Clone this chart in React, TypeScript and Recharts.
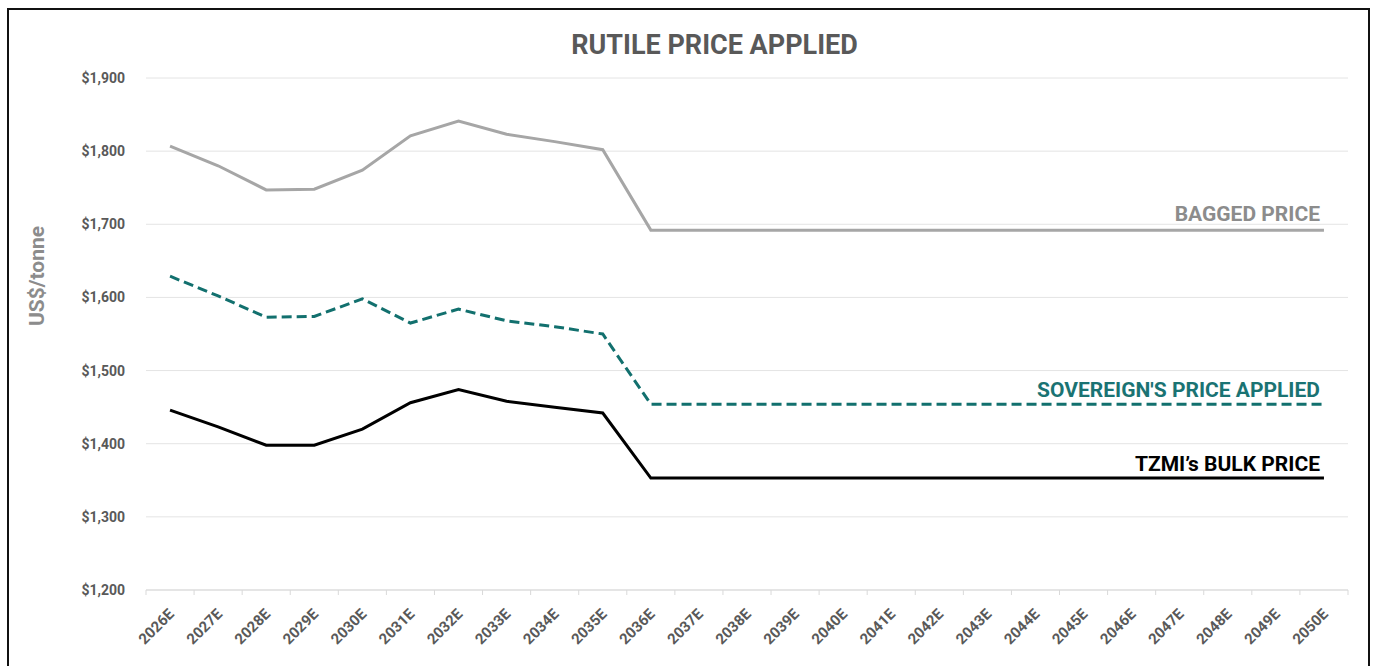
import { LineChart, Line, XAxis, YAxis, CartesianGrid, LabelList } from 'recharts';

const years = [
  '2026E', '2027E', '2028E', '2029E', '2030E', '2031E', '2032E', '2033E', '2034E',
  '2035E', '2036E', '2037E', '2038E', '2039E', '2040E', '2041E', '2042E', '2043E',
  '2044E', '2045E', '2046E', '2047E', '2048E', '2049E', '2050E',
];
const baggedPrice = [
  1807, 1780, 1747, 1748, 1774, 1821, 1841, 1823, 1813, 1802, 1692, 1692, 1692,
  1692, 1692, 1692, 1692, 1692, 1692, 1692, 1692, 1692, 1692, 1692, 1692,
];
const sovereignPrice = [
  1629, 1602, 1573, 1574, 1598, 1565, 1584, 1568, 1560, 1550, 1454, 1454, 1454,
  1454, 1454, 1454, 1454, 1454, 1454, 1454, 1454, 1454, 1454, 1454, 1454,
];
const bulkPrice = [
  1446, 1423, 1398, 1398, 1420, 1456, 1474, 1458, 1450, 1442, 1353, 1353, 1353,
  1353, 1353, 1353, 1353, 1353, 1353, 1353, 1353, 1353, 1353, 1353, 1353,
];
const yTicks = [1200, 1300, 1400, 1500, 1600, 1700, 1800, 1900];

const chartData = years.map((year, i) => ({
  year,
  bagged: baggedPrice[i],
  sovereign: sovereignPrice[i],
  bulk: bulkPrice[i],
}));

const FONT = 'Roboto, "DejaVu Sans", sans-serif';
const CHART_W = 1359;
const MARGIN = { top: 68, right: 20, bottom: 0, left: 77 };
const Y_AXIS_W = 60;
const STEP = (CHART_W - MARGIN.left - MARGIN.right - Y_AXIS_W) / years.length;

const formatPrice = (v: number) => '$' + v.toLocaleString('en-US');

interface TickProps {
  x?: number;
  y?: number;
  index?: number;
  payload?: { value: string };
}

// year label rotated -45deg, plus a small tick mark at the band's left edge
const YearTick = ({ x = 0, y = 0, index = 0, payload }: TickProps) => {
  const lx = x + 5;
  const ly = y + 25;
  return (
    <g>
      <line x1={x - STEP / 2} x2={x - STEP / 2} y1={y} y2={y + 5} stroke="#d9d9d9" />
      {index === years.length - 1 && (
        <line x1={x + STEP / 2} x2={x + STEP / 2} y1={y} y2={y + 5} stroke="#d9d9d9" />
      )}
      <text
        x={lx}
        y={ly}
        transform={`rotate(-45, ${lx}, ${ly})`}
        textAnchor="end"
        fontFamily={FONT}
        fontWeight={700}
        fontSize={15}
        fill="#595959"
      >
        {payload?.value}
      </text>
    </g>
  );
};

interface EndLabelProps {
  x?: number | string;
  y?: number | string;
  index?: number;
}

const endLabel = (text: string, color: string, lift: number) => (props: EndLabelProps) => {
  if (props.index !== years.length - 1) return null;
  const x = Number(props.x);
  const y = Number(props.y);
  return (
    <text
      x={x - 4}
      y={y - lift}
      textAnchor="end"
      fontFamily={FONT}
      fontWeight={700}
      fontSize={21}
      fill={color}
    >
      {text}
    </text>
  );
};

export default function App() {
  return (
    <div
      style={{
        position: 'absolute',
        left: 7,
        top: 8,
        width: CHART_W,
        height: 656,
        border: '2px solid #111',
        borderBottom: 'none',
        background: '#fff',
        overflow: 'hidden',
      }}
    >
      <div
        style={{
          position: 'absolute',
          left: 0,
          width: '100%',
          paddingLeft: 52,
          boxSizing: 'border-box',
          top: 22,
          textAlign: 'center',
          fontFamily: FONT,
          fontWeight: 700,
          fontSize: 27,
          lineHeight: '27px',
          color: '#595959',
        }}
      >
        RUTILE PRICE APPLIED
      </div>
      <div
        style={{
          position: 'absolute',
          left: 28,
          top: 266,
          transform: 'translate(-50%, -50%) rotate(-90deg)',
          whiteSpace: 'nowrap',
          fontFamily: FONT,
          fontWeight: 700,
          fontSize: 21,
          color: '#8c8c8c',
        }}
      >
        US$/tonne
      </div>
      <LineChart width={CHART_W} height={650} data={chartData} margin={MARGIN}>
        <CartesianGrid vertical={false} stroke="#e4e4e4" />
        <XAxis
          dataKey="year"
          interval={0}
          height={70}
          padding={{ left: STEP / 2, right: STEP / 2 }}
          tickLine={false}
          tickSize={0}
          tickMargin={0}
          axisLine={{ stroke: '#d9d9d9' }}
          tick={<YearTick />}
        />
        <YAxis
          width={Y_AXIS_W}
          domain={[1200, 1900]}
          ticks={yTicks}
          tickFormatter={formatPrice}
          axisLine={false}
          tickLine={false}
          tickMargin={15}
          tick={{ fontFamily: FONT, fontWeight: 700, fontSize: 14, fill: '#595959' }}
        />
        <Line
          dataKey="bagged"
          stroke="#a6a6a6"
          strokeWidth={3}
          dot={false}
          isAnimationActive={false}
        >
          <LabelList dataKey="bagged" content={endLabel('BAGGED PRICE', '#8c8c8c', 9)} />
        </Line>
        <Line
          dataKey="sovereign"
          stroke="#12706e"
          strokeWidth={3}
          strokeDasharray="10 5"
          dot={false}
          isAnimationActive={false}
        >
          <LabelList
            dataKey="sovereign"
            content={endLabel("SOVEREIGN'S PRICE APPLIED", '#1a7373', 7)}
          />
        </Line>
        <Line
          dataKey="bulk"
          stroke="#000"
          strokeWidth={3}
          dot={false}
          isAnimationActive={false}
        >
          <LabelList dataKey="bulk" content={endLabel('TZMI\u2019s BULK PRICE', '#000', 7)} />
        </Line>
      </LineChart>
    </div>
  );
}
